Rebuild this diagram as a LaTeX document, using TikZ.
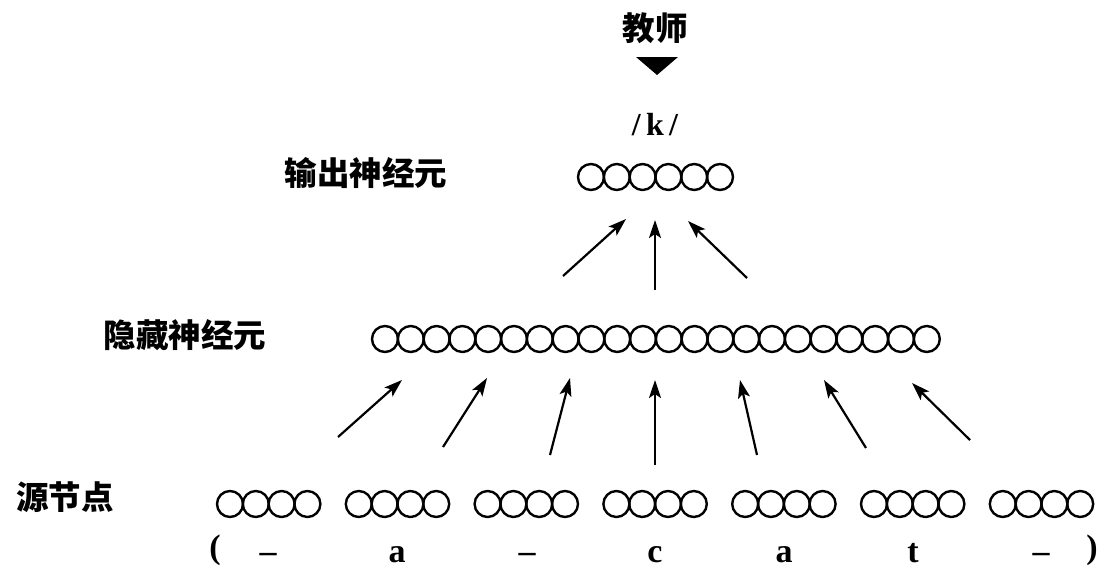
\documentclass[tikz,border=0pt]{standalone}
\usepackage{fontspec}
\setmainfont{Liberation Serif}
\newfontfamily\cjk{Noto Sans CJK SC}
\usetikzlibrary{arrows.meta}
\tikzset{
  neuron/.style={circle,draw,line width=2.4pt,minimum size=26pt,inner sep=0pt},
  cjklabel/.style={font=\cjk\bfseries\fontsize{32.5pt}{34pt}\selectfont,inner sep=0pt},
  letter/.style={font=\bfseries\fontsize{34pt}{36pt}\selectfont,inner sep=0pt,anchor=base},
  link/.style={line width=2.2pt,-{Stealth[length=18pt,width=12pt,inset=4pt]}}
}
\begin{document}
\begin{tikzpicture}[x=1pt,y=-1pt]
\useasboundingbox (0,0) rectangle (1100,571);
% labels
\node[cjklabel] (teacher) at (655,28) {教师};
\node[letter,anchor=center,font=\bfseries\fontsize{32pt}{34pt}\selectfont] (k) at (655,125) {/\,k\,/};
\node[cjklabel] (outlab) at (366,173) {输出神经元};
\node[cjklabel] (hidlab) at (185,335) {隐藏神经元};
\node[cjklabel] (srclab) at (65,497) {源节点};
% teacher triangle
\fill (636,57) -- (678,57) -- (657,75) -- cycle;
% output neurons
\foreach \i in {0,...,5} \node[neuron] (o\i) at ({591+25.8*\i},177) {};
% hidden neurons
\foreach \i in {0,...,21} \node[neuron] (h\i) at ({385+25.8*\i},339) {};
% source neurons
\foreach \g in {0,...,6} \foreach \j in {0,...,3}
  \node[neuron] (s\g\j) at ({230+128.8*\g+25.8*\j},504) {};
% letters
\node[letter] (lp) at (215,558) {(};
\node[letter] (l0) at (268,562) {–};
\node[letter] (l1) at (397,562) {a};
\node[letter] (l2) at (527,562) {–};
\node[letter] (l3) at (655,562) {c};
\node[letter] (l4) at (784,562) {a};
\node[letter] (l5) at (913,562) {t};
\node[letter] (l6) at (1041,562) {–};
\node[letter] (rp) at (1092,558) {)};
% arrows to output
\coordinate (oa1) at (563,276); \coordinate (ob1) at (626,219);
\coordinate (oa2) at (655,290); \coordinate (ob2) at (655,220);
\coordinate (oa3) at (747,278); \coordinate (ob3) at (688,221);
\foreach \k in {1,2,3} \draw[link] (oa\k) -- (ob\k);
% arrows to hidden
\coordinate (ha1) at (338,437); \coordinate (hb1) at (402,380);
\coordinate (ha2) at (443,447); \coordinate (hb2) at (487,378);
\coordinate (ha3) at (550,455); \coordinate (hb3) at (570,378);
\coordinate (ha4) at (655,465); \coordinate (hb4) at (655,380);
\coordinate (ha5) at (757,455); \coordinate (hb5) at (740,380);
\coordinate (ha6) at (866,448); \coordinate (hb6) at (824,380);
\coordinate (ha7) at (970,440); \coordinate (hb7) at (912,383);
\foreach \k in {1,...,7} \draw[link] (ha\k) -- (hb\k);
\end{tikzpicture}
\end{document}
